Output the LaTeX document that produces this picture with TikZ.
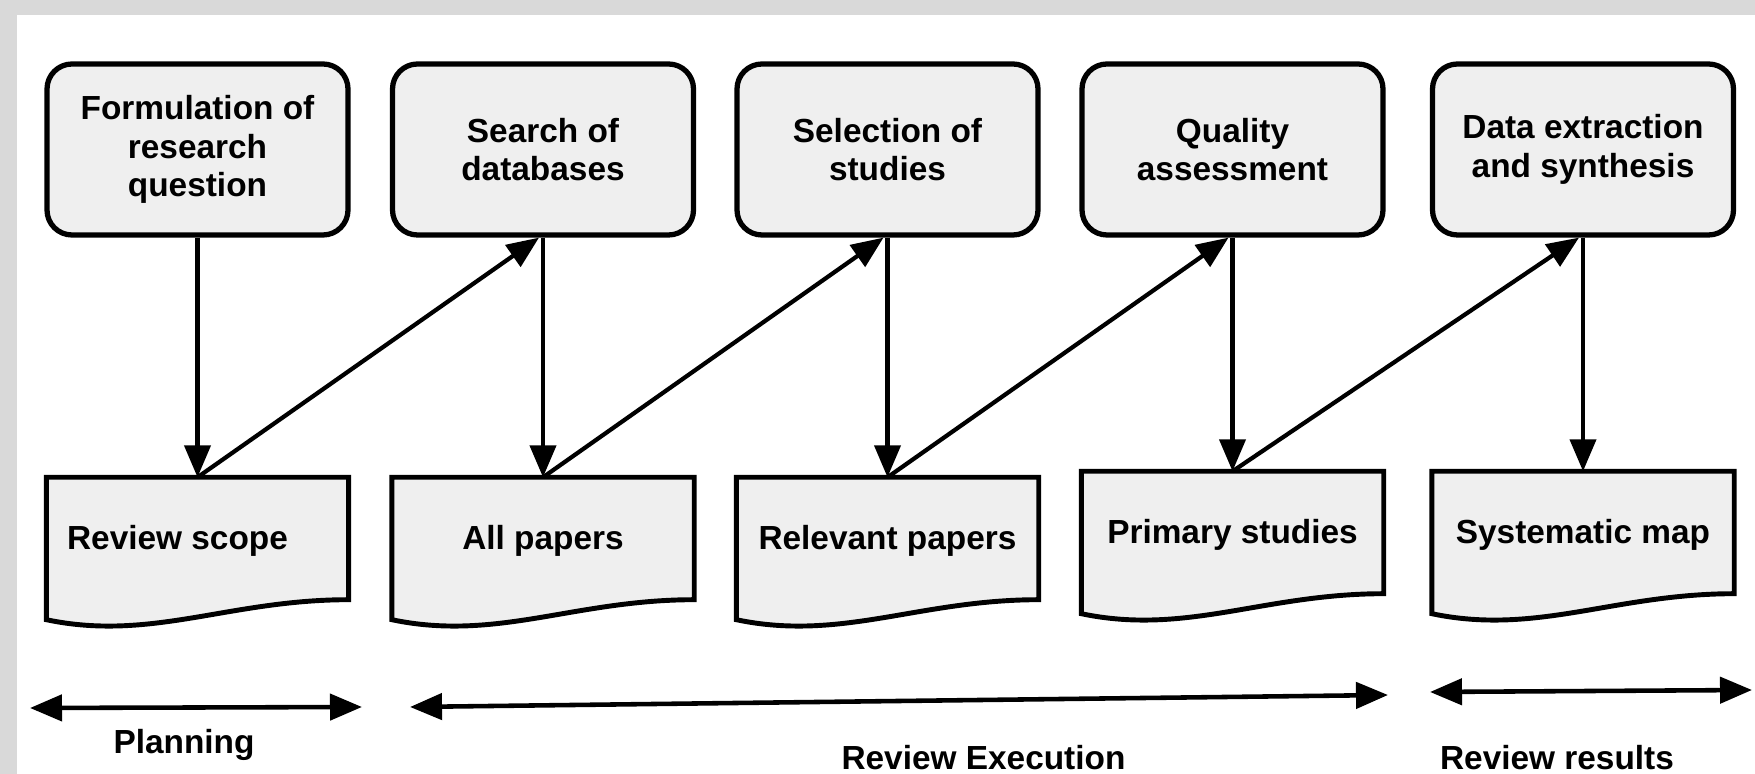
\documentclass[tikz,border=0pt]{standalone}
\usepackage{fontspec}
\setmainfont{Liberation Sans}
\usepackage{tikz}
\usetikzlibrary{arrows.meta}
\usetikzlibrary{backgrounds}
\definecolor{boxgray}{HTML}{EFEFEF}
\definecolor{pagegray}{HTML}{D9D9D9}

\begin{document}
\begin{tikzpicture}[
		>={Triangle[length=0.32cm,width=0.26cm]},
		every node/.style={font=\fontsize{9.5}{10.9}\selectfont\bfseries},
		stepbox/.style={draw, line width=1.5pt, fill=boxgray, rounded corners=0.25cm, minimum width=3.01cm, minimum height=1.71cm, align=center},
		docbox/.style={minimum width=3.01cm, minimum height=1.26cm, inner sep=0pt},
		docline/.style={draw, line width=1.4pt, fill=boxgray},
		flow/.style={->, line width=1.2pt},
		phase/.style={<->, line width=1.3pt}
	]
			
			\useasboundingbox (0,0) rectangle (17.55,7.74);
			
			% activities
			\node[stepbox] (b1) at (1.975,6.245) {Formulation of\\research\\question};
			\node[stepbox] (b2) at (5.43,6.245) {Search of\\databases};
			\node[stepbox] (b3) at (8.875,6.245) {Selection of\\studies};
			\node[stepbox] (b4) at (12.325,6.245) {Quality\\assessment};
			\node[stepbox] (b5) at (15.83,6.245) {Data extraction\\and synthesis};
			
			% outcomes
			\node[docbox] (d1) at (1.975,2.33) {Review scope\hspace*{0.4cm}};
			\node[docbox] (d2) at (5.43,2.33) {All papers};
			\node[docbox] (d3) at (8.875,2.33) {Relevant papers};
			\node[docbox] (d4) at (12.325,2.39) {Primary studies};
			\node[docbox] (d5) at (15.83,2.39) {Systematic map};
			
			\begin{scope}[on background layer]
				\fill[pagegray] (0,0) rectangle (17.55,7.74);
				\fill[white] (0.17,0) rectangle (17.55,7.59);
				\foreach \n in {1,...,5}{
					\draw[docline] (d\n.north west) -- (d\n.north east) -- ([yshift=0.05cm]d\n.south east)
						.. controls ([xshift=-1.2cm,yshift=0.05cm]d\n.south east) and ([xshift=1.05cm,yshift=-0.37cm]d\n.south west)
						.. ([yshift=-0.15cm]d\n.south west) -- cycle;
				}
			\end{scope}
			
			\foreach \n in {1,...,5}{
				\draw[flow] (b\n) -- (d\n);
			}
			\foreach \n [count=\m from 2] in {1,...,4}{
				\draw[flow] (d\n.north) -- ([xshift=-0.04cm]b\m.south);
			}
			
			% phases
			\coordinate (plan-l) at (0.30,0.66);
			\coordinate (plan-r) at (3.62,0.67);
			\coordinate (exec-l) at (4.10,0.67);
			\coordinate (exec-r) at (13.88,0.79);
			\coordinate (res-l) at (14.30,0.82);
			\coordinate (res-r) at (17.52,0.84);
			\draw[phase] (plan-l) -- (plan-r);
			\draw[phase] (exec-l) -- (exec-r);
			\draw[phase] (res-l) -- (res-r);
			
			\node[anchor=base] (plan) at (1.84,0.20) {Planning};
			\node[anchor=base] (exec) at (9.835,0.04) {Review Execution};
			\node[anchor=base] (res) at (15.57,0.04) {Review results};
			
		\end{tikzpicture}
\end{document}
